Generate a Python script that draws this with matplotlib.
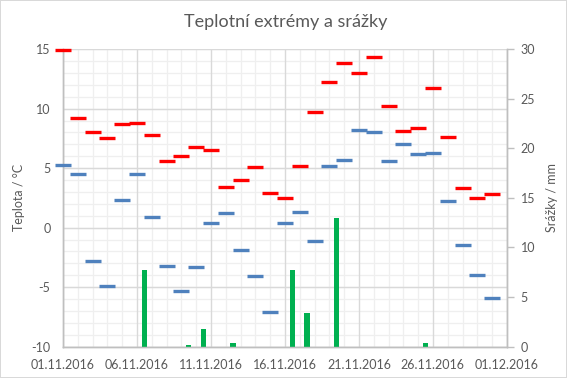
import matplotlib

matplotlib.use("Agg")
import matplotlib.pyplot as plt
import matplotlib.dates as mdates
import pandas as pd

plt.rcParams["font.family"] = ["Lato", "DejaVu Sans"]
plt.rcParams["font.size"] = 9
plt.rcParams["axes.unicode_minus"] = False

TITLE = "Teplotní extrémy a srážky"
dates = pd.date_range("2016-11-01", periods=30, freq="D")

t_max = [14.9, 9.2, 8.0, 7.5, 8.7, 8.8, 7.8, 5.6, 6.0, 6.8,
         6.5, 3.4, 4.0, 5.1, 2.9, 2.5, 5.2, 9.7, 12.2, 13.8,
         13.0, 14.3, 10.2, 8.1, 8.4, 11.7, 7.6, 3.3, 2.5, 2.8]
t_min = [5.3, 4.5, -2.8, -4.9, 2.3, 4.5, 0.9, -3.2, -5.3, -3.3,
         0.4, 1.2, -1.9, -4.1, -7.1, 0.4, 1.3, -1.1, 5.2, 5.7,
         8.2, 8.0, 5.6, 7.0, 6.2, 6.3, 2.2, -1.5, -4.0, -5.9]
precip = [0, 0, 0, 0, 0, 7.7, 0, 0, 0.2, 1.8,
          0, 0.4, 0, 0, 0, 7.7, 3.4, 0, 13.0, 0,
          0, 0, 0, 0, 0.4, 0, 0, 0, 0, 0]

TXT = "#595959"
GRID_MAJ = "#d9d9d9"
GRID_MIN = "#efefef"

fig = plt.figure(figsize=(5.67, 3.78), dpi=100, linewidth=1.2, edgecolor="#d9d9d9")
ax = fig.add_axes([0.111, 0.083, 0.783, 0.787])
ax2 = ax.twinx()

ax.set_zorder(2)
ax.patch.set_visible(False)
ax2.set_zorder(1)

# precipitation columns (secondary axis), sit between day markers
ax2.bar(dates + pd.Timedelta(hours=12), precip, width=0.37, color="#00b050", zorder=3)
ax2.set_ylim(0, 30)
ax2.set_yticks(range(0, 31, 5))

ax.plot(dates, t_max, ls="none", marker="_", ms=12, mew=2.4, color="#ff0000",
        zorder=4, clip_on=False)
ax.plot(dates, t_min, ls="none", marker="_", ms=12, mew=2.4, color="#4f81bd",
        zorder=4, clip_on=False)

ax.set_ylim(-10, 15)
ax.set_yticks(range(-10, 16, 5))
ax.set_yticks(range(-10, 16, 1), minor=True)
ax.set_xlim(pd.Timestamp("2016-11-01"), pd.Timestamp("2016-12-01"))
ax.xaxis.set_major_locator(mdates.DayLocator(bymonthday=[1, 6, 11, 16, 21, 26]))
ax.xaxis.set_minor_locator(mdates.DayLocator())
ax.xaxis.set_major_formatter(mdates.DateFormatter("%d.%m.%Y"))

# grid drawn on the lower axes so it sits behind the columns
for loc in ax.get_xticks(minor=True):
    ax2.axvline(loc, color=GRID_MIN, lw=0.9, zorder=0)
for y in range(-10, 16):
    ax2.axhline((y + 10) * 30 / 25, color=GRID_MIN, lw=0.9, zorder=0)
for loc in ax.get_xticks():
    ax2.axvline(loc, color=GRID_MAJ, lw=1.0, zorder=0.5)
for y in range(-10, 16, 5):
    ax2.axhline((y + 10) * 30 / 25, color=GRID_MAJ, lw=1.0, zorder=0.5)

for a in (ax, ax2):
    a.spines["top"].set_visible(False)
    for s in ("left", "right", "bottom"):
        a.spines[s].set_color("#bfbfbf")
        a.spines[s].set_linewidth(1.0)

ax.tick_params(axis="both", which="both", length=0, colors=TXT, labelsize=9)
ax.tick_params(axis="y", pad=9)
ax.tick_params(axis="x", pad=9)
ax2.tick_params(axis="y", which="major", length=5, width=1, color="#bfbfbf",
                labelcolor=TXT, labelsize=9, pad=5)

ax.set_ylabel("Teplota / °C", color=TXT, fontsize=9)
ax.yaxis.set_label_coords(-0.085, 0.5)
ax2.set_ylabel("Srážky / mm", color=TXT, fontsize=9)
ax2.yaxis.set_label_coords(1.088, 0.5)

fig.text(0.503, 0.942, TITLE, ha="center", va="center", fontsize=13, color=TXT)

fig.savefig("out.png", dpi=100)
